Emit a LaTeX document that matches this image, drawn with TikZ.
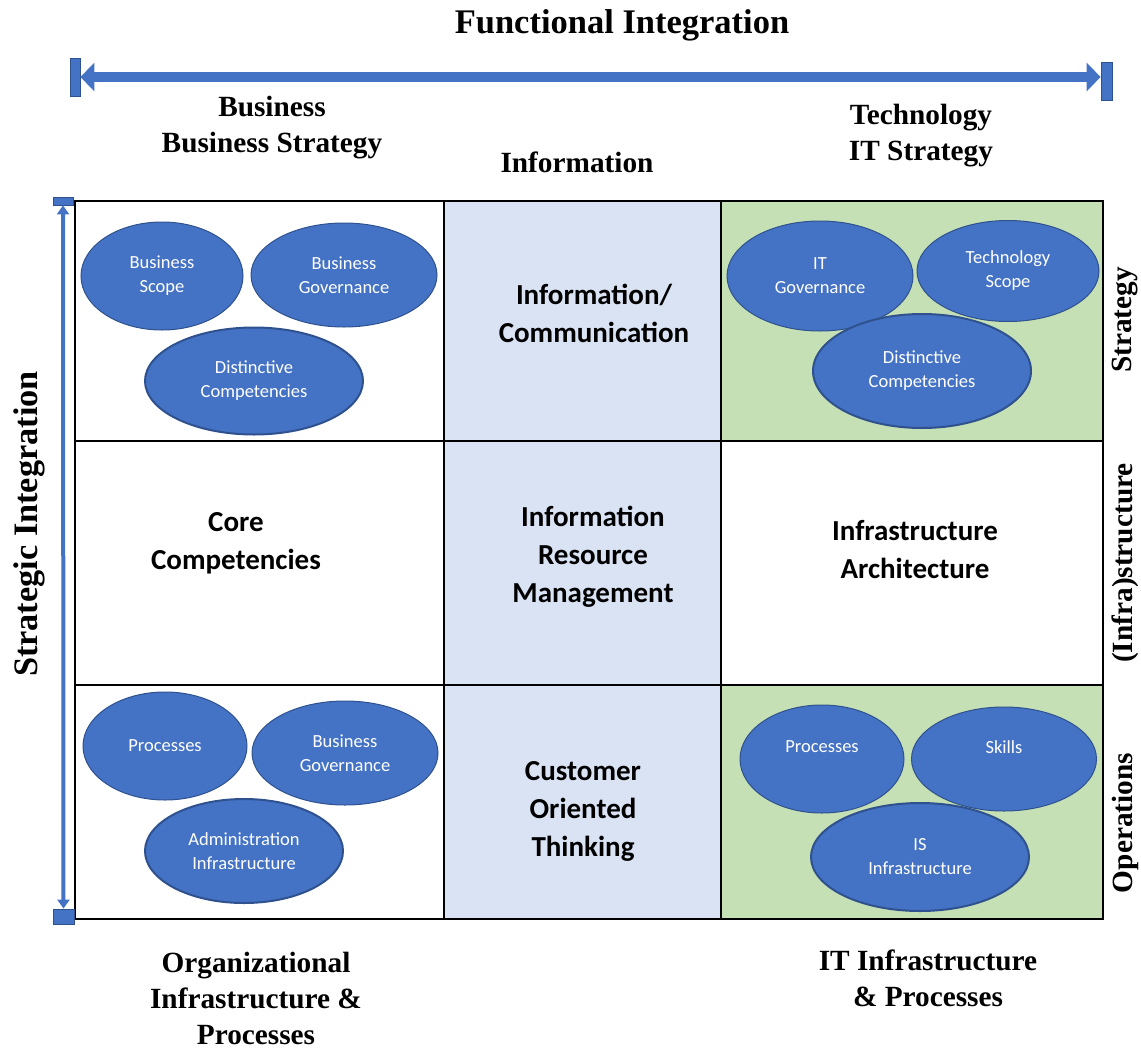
\documentclass[tikz,border=0pt]{standalone}
\usepackage{fontspec}
\setmainfont{Liberation Serif}
\newfontfamily\calibri{Carlito}
\usepackage{tikz}
\usetikzlibrary{shapes,arrows,positioning,calc,arrows.meta}

\definecolor{ovalblue}{HTML}{4472C4}
\definecolor{ovaledge}{HTML}{2F528F}
\definecolor{infoblue}{HTML}{DAE3F3}
\definecolor{cellgreen}{HTML}{C5E0B4}

\tikzset{
    cell/.style={draw=black,line width=1.6pt,inner sep=0pt},
    celltext/.style={align=center,font=\calibri\bfseries\fontsize{29}{38}\selectfont},
    ovalnode/.style={ellipse,draw=ovaledge,fill=ovalblue,line width=1pt,inner sep=0pt,
        text=white,align=center,font=\calibri\fontsize{18.5}{24}\selectfont},
    hdr/.style={align=center,font=\bfseries\fontsize{29.3}{36}\selectfont},
    endbar/.style={draw=ovaledge,fill=ovalblue,line width=0.8pt,inner sep=0pt}
}

\begin{document}
\begin{tikzpicture}[x=1pt,y=-1pt]
    \useasboundingbox (0,0) rectangle (1141,1050);

    % Functional integration arrow
    \node[hdr,font=\bfseries\fontsize{34.5}{40}\selectfont] (func) at (622,25) {Functional Integration};
    \node[endbar,minimum width=10pt,minimum height=38pt] (lbar) at (75,77) {};
    \node[endbar,minimum width=11pt,minimum height=38pt] (rbar) at (1106.5,81) {};
    \draw[ovalblue,line width=10pt,{Triangle[length=14pt,width=28pt]}-{Triangle[length=14pt,width=28pt]}]
        (lbar.east) -- (lbar.east -| rbar.west);

    % Column headers
    \node[hdr] (bus) at (272,128) {Business\\Business Strategy};
    \node[hdr] (info) at (577,162) {Information};
    \node[hdr] (tech) at (921,136) {Technology\\IT Strategy};

    % Grid cells
    \node[cell,minimum width=369pt,minimum height=240pt] (c11) at (259.5,321) {};
    \node[cell,fill=infoblue,minimum width=277pt,minimum height=240pt] (c12) at (582.5,321) {};
    \node[cell,fill=cellgreen,minimum width=382pt,minimum height=240pt] (c13) at (912,321) {};
    \node[cell,minimum width=369pt,minimum height=244pt] (c21) at (259.5,563) {};
    \node[cell,fill=infoblue,minimum width=277pt,minimum height=244pt] (c22) at (582.5,563) {};
    \node[cell,minimum width=382pt,minimum height=244pt] (c23) at (912,563) {};
    \node[cell,minimum width=369pt,minimum height=234pt] (c31) at (259.5,802) {};
    \node[cell,fill=infoblue,minimum width=277pt,minimum height=234pt] (c32) at (582.5,802) {};
    \node[cell,fill=cellgreen,minimum width=382pt,minimum height=234pt] (c33) at (912,802) {};

    % Middle column
    \node[celltext] (infocomm) at (594,313) {Information/\\Communication};
    \node[celltext] (irm) at (593,557) {Information\\Resource\\Management};
    \node[celltext] (cot) at (583,811) {Customer\\Oriented\\Thinking};
    \node[celltext] (core) at (236,543) {Core\\Competencies};
    \node[celltext] (infarch) at (915,550) {Infrastructure\\Architecture};

    % Business strategy ovals
    \node[ovalnode,minimum width=162pt,minimum height=108pt] (bscope) at (162,276) {Business\\Scope};
    \node[ovalnode,minimum width=186pt,minimum height=104pt] (bgov) at (344,275) {Business\\Governance};
    \node[ovalnode,line width=2pt,minimum width=218pt,minimum height=107pt] (bdist) at (254,381) {Distinctive\\Competencies};

    % IT strategy ovals
    \node[ovalnode,minimum width=186pt,minimum height=110pt] (itgov) at (820,276) {IT\\Governance};
    \node[ovalnode,minimum width=182pt,minimum height=101pt] (tscope) at (1008,271) {Technology\\Scope};
    \node[ovalnode,line width=2pt,minimum width=218pt,minimum height=114pt] (tdist) at (922,371) {Distinctive\\Competencies};

    % Organizational ovals
    \node[ovalnode,minimum width=164pt,minimum height=108pt] (oproc) at (165,746) {Processes};
    \node[ovalnode,minimum width=186pt,minimum height=104pt] (ogov) at (345,753) {Business\\Governance};
    \node[ovalnode,line width=2pt,minimum width=198pt,minimum height=104pt] (oadm) at (244,851) {Administration\\Infrastructure};

    % IT infrastructure ovals
    \node[ovalnode,minimum width=164pt,minimum height=108pt] (iproc) at (822,759) {Processes\\\mbox{}};
    \node[ovalnode,minimum width=185pt,minimum height=104pt] (iskill) at (1004,759) {Skills\\\mbox{}};
    \node[ovalnode,line width=2pt,minimum width=218pt,minimum height=108pt] (iinfra) at (920,857) {IS\\Infrastructure};

    % Bottom headers
    \node[hdr] (org) at (256,998) {Organizational\\Infrastructure \&\\Processes};
    \node[hdr] (itinf) at (928,978) {IT Infrastructure\\\& Processes};

    % Row labels on the right
    \node[hdr,rotate=90] (rstrat) at (1125,320) {Strategy};
    \node[hdr,rotate=90] (rinfra) at (1125,563) {(Infra)structure};
    \node[hdr,rotate=90] (rops) at (1125,823) {Operations};

    % Strategic integration arrow
    \node[hdr,rotate=90,font=\bfseries\fontsize{34.3}{40}\selectfont] (strat) at (29,524) {Strategic Integration};
    \node[endbar,minimum width=20pt,minimum height=8pt] (tbar) at (63,201) {};
    \node[endbar,minimum width=21pt,minimum height=15pt] (bbar) at (63.5,916.5) {};
    \draw[ovalblue,line width=4pt,{Triangle[length=9pt,width=12pt]}-{Triangle[length=9pt,width=12pt]}]
        (tbar.south) -- (bbar.north);
\end{tikzpicture}
\end{document}
